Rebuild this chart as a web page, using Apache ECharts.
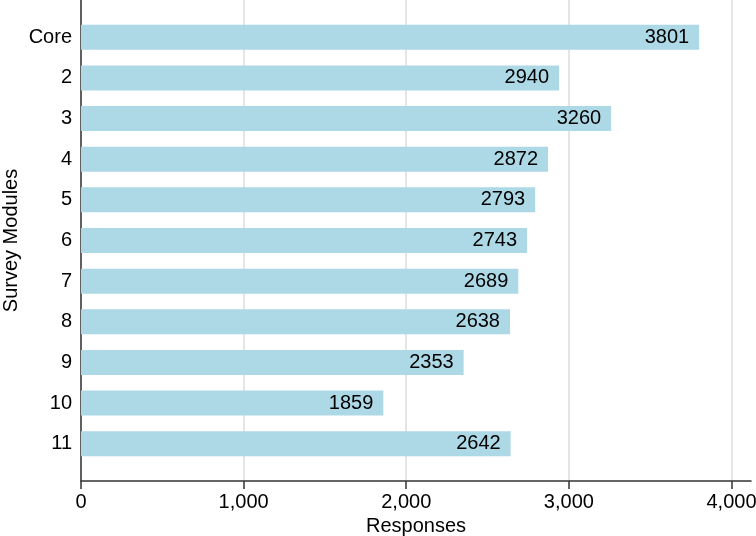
<!DOCTYPE html>
<html>
<head>
<meta charset="utf-8">
<script src="https://cdn.jsdelivr.net/npm/echarts@6/dist/echarts.min.js"></script>
<style>
  html, body { margin: 0; padding: 0; background: #fff; }
  #main { width: 756px; height: 536px; }
</style>
</head>
<body>
<div id="main"></div>
<script>
// data
const modules = ['Core', '2', '3', '4', '5', '6', '7', '8', '9', '10', '11']
const responses = [3801, 2940, 3260, 2872, 2793, 2743, 2689, 2638, 2353, 1859, 2642]
const xTicks = [0, 1000, 2000, 3000, 4000]
const xMax = 4120

const font = 'Liberation Sans, Arial, sans-serif'
const fs = 20
const fmt = v => Number(v).toLocaleString('en-US')

const option = {
    animation: false,
    backgroundColor: '#fff',
    textStyle: { fontFamily: font },
    grid: [
        // frame: axis lines, ticks, grid lines, titles
        { left: 81, right: 5, top: 0, bottom: 55, outerBoundsMode: 'none', containLabel: false },
        // bars
        { left: 81, right: 5, top: 17, height: 447, outerBoundsMode: 'none', containLabel: false }
    ],
    xAxis: [
        {
            gridIndex: 0,
            type: 'value',
            min: 0,
            max: xMax,
            name: 'Responses',
            nameLocation: 'middle',
            nameGap: 32,
            nameTextStyle: { fontSize: fs, color: '#000', fontFamily: font },
            axisLine: { show: true, lineStyle: { color: '#333', width: 1.5 } },
            axisTick: { show: true, length: 8, customValues: xTicks, lineStyle: { color: '#333', width: 1.5 } },
            axisLabel: {
                customValues: xTicks,
                formatter: fmt,
                margin: 11,
                fontSize: fs,
                color: '#000',
                fontFamily: font
            },
            splitLine: { show: true, lineStyle: { color: '#dcdcdc', width: 1.5 } }
        },
        {
            gridIndex: 1,
            type: 'value',
            min: 0,
            max: xMax,
            show: false,
            splitLine: { show: false }
        }
    ],
    yAxis: [
        {
            gridIndex: 0,
            type: 'value',
            min: 0,
            max: 1,
            name: 'Survey Modules',
            nameLocation: 'middle',
            nameGap: 60,
            nameTextStyle: { fontSize: fs, color: '#000', fontFamily: font },
            axisLine: { show: true, lineStyle: { color: '#333', width: 1.5 } },
            axisTick: { show: false },
            axisLabel: { show: false },
            splitLine: { show: false }
        },
        {
            gridIndex: 1,
            type: 'category',
            data: modules,
            inverse: true,
            axisLine: { show: false },
            axisTick: { show: false },
            axisLabel: { margin: 9, fontSize: fs, color: '#000', fontFamily: font },
            splitLine: { show: false }
        }
    ],
    series: [
        {
            type: 'bar',
            xAxisIndex: 1,
            yAxisIndex: 1,
            data: responses,
            barWidth: 25,
            itemStyle: { color: '#add8e6' },
            label: {
                show: true,
                position: 'insideRight',
                distance: 10,
                fontSize: fs,
                color: '#000',
                fontFamily: font
            }
        }
    ]
}

const chart = echarts.init(document.getElementById('main'), null, { renderer: 'canvas' })
chart.setOption(option)
</script>
</body>
</html>
